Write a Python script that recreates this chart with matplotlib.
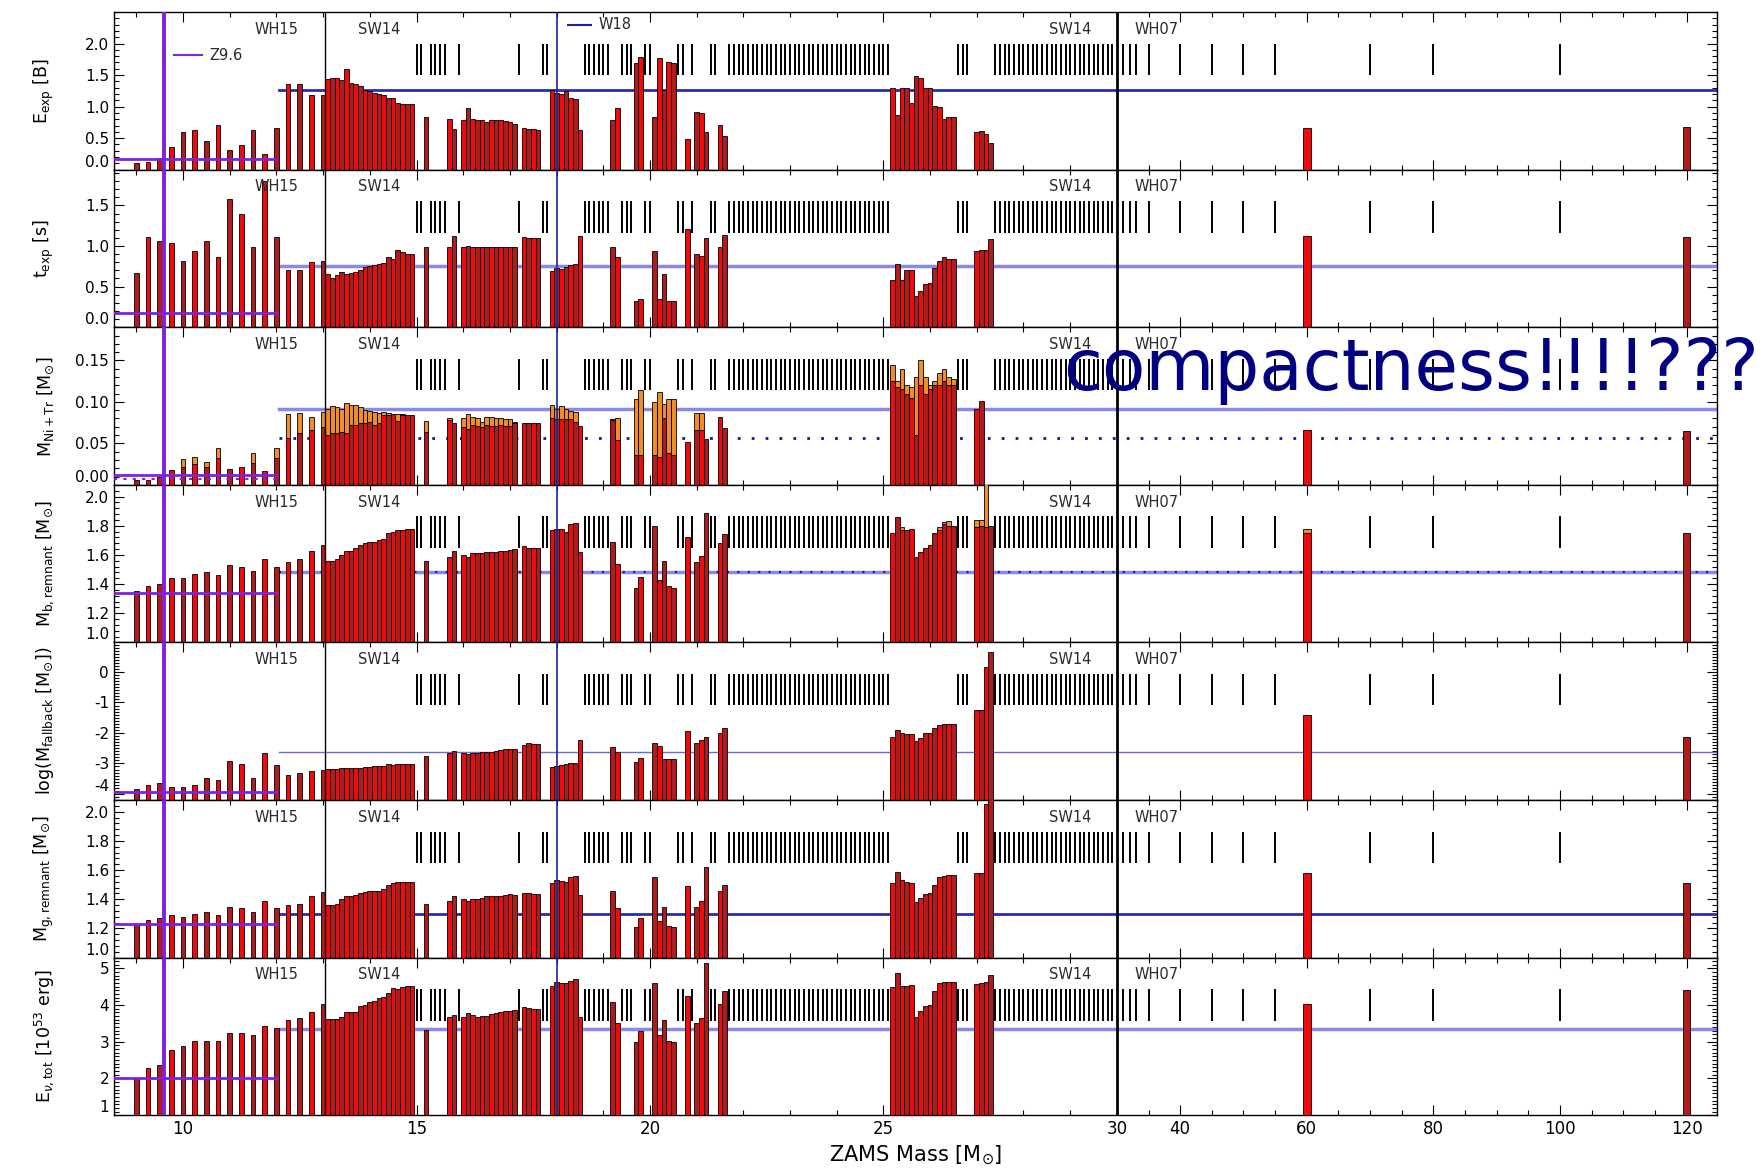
import matplotlib
matplotlib.use('Agg')
import matplotlib.pyplot as plt
from matplotlib.ticker import FixedLocator, MultipleLocator
import numpy as np

plt.rcParams.update({
    'font.family': ['DejaVu Sans'],
    'axes.unicode_minus': False,
    'mathtext.fontset': 'dejavusans',
})

# ---- exploding models: ZAMS mass and outcomes ----
mass = [9.0, 9.25, 9.5, 9.75, 10.0, 10.25, 10.5, 10.75, 11.0, 11.25, 11.5, 11.75, 12.0, 12.25, 12.5, 12.75, 13.0,
        13.1, 13.2, 13.3, 13.4, 13.5, 13.6, 13.7, 13.8, 13.9, 14.0, 14.1, 14.2, 14.3, 14.4, 14.5, 14.6, 14.7, 14.8, 14.9,
        15.2, 15.7, 15.8,
        16.0, 16.1, 16.2, 16.3, 16.4, 16.5, 16.6, 16.7, 16.8, 16.9, 17.0, 17.1,
        17.3, 17.4, 17.5, 17.6,
        17.9, 18.0, 18.1, 18.2, 18.3, 18.4, 18.5,
        19.2, 19.3, 19.7, 19.8,
        20.1, 20.2, 20.3, 20.4, 20.5, 20.8,
        21.0, 21.1, 21.2, 21.5, 21.6,
        25.2, 25.3, 25.4, 25.5, 25.6, 25.7, 25.8, 25.9, 26.0, 26.1, 26.2, 26.3, 26.4, 26.5,
        27.0, 27.1, 27.2, 27.3,
        60.0, 120.0]

e_exp = [0.10, 0.125, 0.18, 0.36, 0.60, 0.63, 0.45, 0.71, 0.31, 0.39, 0.63, 0.25, 0.66, 1.36, 1.36, 1.19, 1.18,
         1.43, 1.45, 1.46, 1.42, 1.59, 1.38, 1.36, 1.32, 1.27, 1.25, 1.21, 1.20, 1.18, 1.13, 1.13, 1.05, 1.04, 1.04, 1.04,
         0.84, 0.81, 0.65,
         0.79, 0.97, 0.80, 0.79, 0.78, 0.76, 0.79, 0.79, 0.78, 0.77, 0.75, 0.73,
         0.66, 0.65, 0.64, 0.63,
         1.26, 1.22, 1.20, 1.25, 1.13, 1.12, 0.63,
         0.78, 0.97, 1.69, 1.78,
         0.83, 1.77, 1.27, 1.71, 1.69, 0.48,
         0.92, 0.90, 0.60, 0.71, 0.53,
         1.30, 0.87, 1.30, 1.30, 1.06, 1.48, 1.45, 1.30, 1.30, 1.01, 0.99, 0.81, 0.83, 0.83,
         0.59, 0.62, 0.56, 0.42,
         0.66, 0.67]

t_exp = [0.67, 1.11, 1.06, 1.04, 0.81, 0.94, 1.06, 0.87, 1.58, 1.40, 0.99, 1.80, 1.11, 0.70, 0.70, 0.80, 0.82,
         0.65, 0.61, 0.64, 0.68, 0.66, 0.67, 0.68, 0.71, 0.74, 0.75, 0.77, 0.78, 0.79, 0.87, 0.84, 0.95, 0.92, 0.90, 0.90,
         0.99, 0.99, 1.12,
         0.99, 1.00, 0.99, 0.99, 0.99, 0.99, 0.99, 0.99, 0.99, 0.99, 0.99, 0.99,
         1.11, 1.10, 1.10, 1.10,
         0.69, 0.73, 0.72, 0.74, 0.76, 0.78, 1.12,
         0.99, 0.87, 0.32, 0.35,
         0.94, 0.35, 0.65, 0.32, 0.32, 1.21,
         0.90, 0.88, 1.10, 0.99, 1.14,
         0.58, 0.78, 0.58, 0.71, 0.71, 0.38, 0.45, 0.53, 0.54, 0.73, 0.81, 0.86, 0.84, 0.84,
         0.94, 0.95, 0.95, 1.09,
         1.12, 1.11]

# nickel (red) and nickel + tracer (top of orange)
m_ni = [0.006, 0.006, 0.009, 0.018, 0.021, 0.025, 0.022, 0.032, 0.019, 0.022, 0.026, 0.017, 0.032, 0.056, 0.062, 0.066, 0.070,
        0.060, 0.062, 0.062, 0.064, 0.062, 0.072, 0.072, 0.074, 0.074, 0.076, 0.072, 0.074, 0.084, 0.084, 0.086, 0.077, 0.084, 0.084, 0.084,
        0.064, 0.078, 0.074,
        0.070, 0.067, 0.072, 0.071, 0.070, 0.072, 0.071, 0.071, 0.072, 0.071, 0.071, 0.074,
        0.075, 0.075, 0.075, 0.074,
        0.081, 0.079, 0.079, 0.079, 0.079, 0.076, 0.071,
        0.078, 0.054, 0.036, 0.036,
        0.036, 0.034, 0.080, 0.038, 0.036, 0.052,
        0.066, 0.066, 0.055, 0.082, 0.068,
        0.125, 0.118, 0.115, 0.110, 0.105, 0.060, 0.120, 0.110, 0.115, 0.120, 0.120, 0.125, 0.120, 0.120,
        0.092, 0.101, 0.0, 0.0,
        0.066, 0.065]

m_ni_tr = [0.006, 0.006, 0.009, 0.018, 0.031, 0.033, 0.027, 0.045, 0.019, 0.022, 0.038, 0.017, 0.044, 0.086, 0.087, 0.082, 0.088,
           0.092, 0.095, 0.094, 0.092, 0.099, 0.096, 0.096, 0.094, 0.090, 0.089, 0.088, 0.087, 0.088, 0.087, 0.086, 0.086, 0.085, 0.084, 0.084,
           0.077, 0.081, 0.074,
           0.080, 0.086, 0.082, 0.080, 0.076, 0.082, 0.082, 0.080, 0.081, 0.079, 0.079, 0.076,
           0.075, 0.075, 0.075, 0.074,
           0.096, 0.092, 0.095, 0.092, 0.089, 0.088, 0.071,
           0.079, 0.080, 0.103, 0.114,
           0.100, 0.112, 0.098, 0.103, 0.103, 0.052,
           0.087, 0.087, 0.055, 0.082, 0.068,
           0.145, 0.125, 0.140, 0.120, 0.118, 0.130, 0.150, 0.130, 0.120, 0.125, 0.135, 0.140, 0.130, 0.128,
           0.092, 0.101, 0.0, 0.0,
           0.066, 0.065]

m_b = [1.35, 1.39, 1.40, 1.44, 1.44, 1.47, 1.48, 1.46, 1.53, 1.52, 1.49, 1.57, 1.52, 1.55, 1.57, 1.63, 1.67,
       1.56, 1.56, 1.575, 1.60, 1.63, 1.63, 1.65, 1.67, 1.68, 1.69, 1.69, 1.70, 1.71, 1.75, 1.76, 1.77, 1.77, 1.78, 1.78,
       1.56, 1.585, 1.625,
       1.60, 1.585, 1.61, 1.615, 1.615, 1.62, 1.62, 1.62, 1.63, 1.63, 1.635, 1.64,
       1.66, 1.65, 1.65, 1.65,
       1.77, 1.78, 1.78, 1.76, 1.81, 1.82, 1.62,
       1.69, 1.54, 1.37, 1.445,
       1.80, 1.43, 1.56, 1.385, 1.37, 1.72,
       1.55, 1.59, 1.89, 1.68, 1.74,
       1.75, 1.86, 1.77, 1.77, 1.78, 1.585, 1.62, 1.65, 1.67, 1.75, 1.77, 1.81, 1.80, 1.80,
       1.79, 1.80, 1.79, 1.80,
       1.75, 1.75]

# baryonic remnant including fallback (top of orange cap)
m_b_fb = [1.35, 1.39, 1.40, 1.44, 1.44, 1.47, 1.48, 1.46, 1.53, 1.52, 1.49, 1.57, 1.52, 1.55, 1.57, 1.63, 1.67,
          1.56, 1.56, 1.575, 1.60, 1.63, 1.63, 1.65, 1.67, 1.68, 1.69, 1.69, 1.70, 1.71, 1.75, 1.76, 1.77, 1.77, 1.78, 1.78,
          1.56, 1.585, 1.625,
          1.60, 1.585, 1.61, 1.615, 1.615, 1.62, 1.62, 1.62, 1.63, 1.63, 1.635, 1.64,
          1.66, 1.65, 1.65, 1.65,
          1.77, 1.78, 1.78, 1.76, 1.81, 1.82, 1.62,
          1.69, 1.54, 1.37, 1.445,
          1.80, 1.43, 1.56, 1.385, 1.37, 1.72,
          1.55, 1.59, 1.89, 1.68, 1.74,
          1.75, 1.86, 1.79, 1.77, 1.78, 1.585, 1.62, 1.65, 1.67, 1.75, 1.79, 1.825, 1.83, 1.80,
          1.84, 1.84, 2.20, 1.80,
          1.78, 1.75]

log_m_fb = [-3.85, -3.71, -3.63, -3.76, -3.78, -3.71, -3.47, -3.54, -2.92, -3.03, -3.47, -2.65, -3.05, -3.38, -3.30, -3.25, -3.22,
            -3.19, -3.19, -3.18, -3.16, -3.14, -3.14, -3.14, -3.14, -3.13, -3.13, -3.10, -3.10, -3.08, -3.02, -3.05, -3.02, -3.02, -3.02, -3.02,
            -2.76, -2.67, -2.59,
            -2.65, -2.70, -2.65, -2.65, -2.61, -2.61, -2.61, -2.59, -2.56, -2.54, -2.54, -2.54,
            -2.40, -2.34, -2.37, -2.37,
            -3.11, -3.07, -3.05, -3.03, -3.00, -2.98, -2.23,
            -2.45, -2.62, -2.94, -2.83,
            -2.32, -2.43, -2.87, -2.87, -2.87, -1.93,
            -2.32, -2.23, -2.14, -2.01, -1.85,
            -2.12, -1.90, -2.01, -2.03, -2.05, -2.26, -2.15, -2.01, -2.01, -1.85, -1.74, -1.69, -1.72, -1.72,
            -1.25, -1.25, 0.17, 0.66,
            -1.41, -2.12]

m_g = [1.23, 1.26, 1.27, 1.29, 1.28, 1.30, 1.31, 1.29, 1.35, 1.34, 1.31, 1.39, 1.34, 1.36, 1.37, 1.42, 1.45,
       1.36, 1.36, 1.37, 1.40, 1.42, 1.42, 1.43, 1.44, 1.45, 1.46, 1.46, 1.46, 1.47, 1.50, 1.51, 1.52, 1.52, 1.52, 1.52,
       1.37, 1.39, 1.42,
       1.405, 1.39, 1.405, 1.405, 1.41, 1.42, 1.425, 1.425, 1.425, 1.43, 1.435, 1.43,
       1.44, 1.44, 1.435, 1.435,
       1.51, 1.53, 1.525, 1.52, 1.55, 1.56, 1.43,
       1.46, 1.34, 1.21, 1.27,
       1.55, 1.25, 1.35, 1.22, 1.21, 1.49,
       1.35, 1.39, 1.62, 1.46, 1.50,
       1.51, 1.59, 1.53, 1.52, 1.51, 1.38, 1.41, 1.435, 1.44, 1.50, 1.55, 1.56, 1.565, 1.565,
       1.58, 1.58, 2.05, 2.20,
       1.58, 1.51]

e_nu = [1.98, 2.28, 2.37, 2.78, 2.89, 3.03, 3.03, 3.03, 3.23, 3.23, 3.19, 3.43, 3.37, 3.59, 3.64, 3.82, 4.02,
        3.61, 3.61, 3.61, 3.68, 3.82, 3.82, 3.82, 3.96, 4.00, 4.09, 4.12, 4.19, 4.23, 4.32, 4.46, 4.43, 4.50, 4.52, 4.52,
        3.32, 3.68, 3.73,
        3.67, 3.78, 3.73, 3.68, 3.71, 3.71, 3.76, 3.79, 3.82, 3.85, 3.85, 3.87,
        3.94, 3.91, 3.89, 3.89,
        4.52, 4.64, 4.60, 4.59, 4.66, 4.70, 3.68,
        4.09, 3.50, 3.00, 3.28,
        4.61, 3.19, 3.59, 3.03, 3.00, 4.25,
        3.52, 3.64, 5.15, 4.03, 4.37,
        4.49, 4.88, 4.52, 4.53, 4.55, 3.68, 3.85, 3.96, 4.00, 4.39, 4.61, 4.64, 4.62, 4.62,
        4.57, 4.59, 4.64, 4.81,
        4.04, 4.41]

# non-exploding models (black-hole formation)
bh_mass = [15.0, 15.1, 15.3, 15.4, 15.5, 15.6, 15.9, 17.2, 17.7, 17.8,
           18.6, 18.7, 18.8, 18.9, 19.0, 19.1, 19.4, 19.5, 19.6, 19.9, 20.0, 20.6, 20.7, 20.9, 21.3, 21.4,
           21.7, 21.8, 21.9, 22.0, 22.1, 22.2, 22.3, 22.4, 22.5, 22.6, 22.7, 22.8, 22.9, 23.0, 23.1, 23.2,
           23.3, 23.4, 23.5, 23.6, 23.7, 23.8, 23.9, 24.0, 24.1, 24.2, 24.3, 24.4, 24.5, 24.6, 24.7, 24.8,
           24.9, 25.0, 25.1,
           26.6, 26.7, 26.8,
           27.4, 27.5, 27.6, 27.7, 27.8, 27.9, 28.0, 28.1, 28.2, 28.3, 28.4, 28.5, 28.6, 28.7, 28.8, 28.9,
           29.0, 29.1, 29.2, 29.3, 29.4, 29.5, 29.6, 29.7, 29.8, 29.9,
           31.0, 32.0, 33.0, 35.0, 40.0, 45.0, 50.0, 55.0, 70.0, 80.0, 100.0]

# mean values of the calibration models, one per panel
z96_level = [0.17, 0.17, 0.012, 1.34, -3.93, 1.23, 2.0]
w18_level = [1.26, 0.75, 0.091, 1.48, -2.62, 1.30, 3.35]
z96_ni_level = 0.007
w18_ni_level = 0.056

ylabels = [r'E$_{\rm exp}$ [B]', r't$_{\rm exp}$ [s]', r'M$_{\rm Ni+Tr}$ [M$_{\odot}$]',
           r'M$_{\rm b,remnant}$ [M$_{\odot}$]', r'log(M$_{\rm fallback}$ [M$_{\odot}$])',
           r'M$_{\rm g,remnant}$ [M$_{\odot}$]', r'E$_{\nu,\rm tot}$ [10$^{53}$ erg]']
ylims = [(0, 2.5), (0, 1.94), (0, 0.19), (1.0, 2.08), (-4.2, 0.97), (1.0, 2.08), (1.0, 5.29)]
yticks = [[0.0, 0.5, 1.0, 1.5, 2.0], [0.0, 0.5, 1.0, 1.5], [0.0, 0.05, 0.10, 0.15],
          [1.0, 1.2, 1.4, 1.6, 1.8, 2.0], [-4, -3, -2, -1, 0], [1.0, 1.2, 1.4, 1.6, 1.8, 2.0],
          [1, 2, 3, 4, 5]]
yfmt = ['{:.1f}', '{:.1f}', '{:.2f}', '{:.1f}', '{:.0f}', '{:.1f}', '{:.0f}']
yminor = [0.1, 0.1, 0.01, 0.04, 0.1, 0.04, 0.1]

xticks = [10, 15, 20, 25, 30, 40, 60, 80, 100, 120]
xminor = [9, 11, 12, 13, 14, 16, 17, 18, 19, 21, 22, 23, 24, 26, 27, 28, 29,
          35, 45, 50, 55, 65, 70, 75, 85, 90, 95, 105, 110, 115]

# ---- broken mass axis: linear up to 30, compressed above ----
K = 0.1356

def fwd(m):
    m = np.asarray(m, dtype=float)
    return np.where(m <= 30, m, 30 + (m - 30) * K)

def inv(u):
    u = np.asarray(u, dtype=float)
    return np.where(u <= 30, u, 30 + (u - 30) / K)

RED_D = '#b01c1c'
RED_B = '#f20a0a'
ORANGE = '#ef8d2c'
PURPLE = '#7f22e0'
BLUE_D = '#2c2cb4'
BLUE_L = '#8888ee'
NAVY = '#1a1a8c'
LABEL_C = '#2a2a2a'

mass_a = np.array(mass)
widths = np.where(mass_a > 30, 1.2, 0.1)
colors = np.array([RED_D if i % 2 == 0 else RED_B for i in range(len(mass))])

fig, axes = plt.subplots(7, 1, figsize=(17.64, 11.69), dpi=100, sharex=True)
fig.subplots_adjust(left=0.0646, right=0.9734, bottom=0.046, top=0.9897, hspace=0)
axes[0].set_xscale('function', functions=(fwd, inv))
XMIN, XMAX = 8.52, 124.8

def bars(ax, top, base, cap=None):
    top = np.array(top)
    keep = top > base
    ax.bar(mass_a[keep], top[keep] - base, width=widths[keep], bottom=base,
           color=colors[keep], edgecolor='black', linewidth=0.6, zorder=3)
    if cap is not None:
        cap = np.array(cap)
        k2 = cap > top + 1e-6
        ax.bar(mass_a[k2], cap[k2] - top[k2], width=widths[k2], bottom=top[k2],
               color=ORANGE, edgecolor='black', linewidth=0.6, zorder=3)

panels = [(e_exp, None), (t_exp, None), (m_ni, m_ni_tr), (m_b, m_b_fb),
          (log_m_fb, None), (m_g, None), (e_nu, None)]
w18_style = [(BLUE_D, 2.0), (BLUE_L, 2.5), (BLUE_L, 2.5), (BLUE_L, 2.5),
             ('#6a6ae0', 1.0), (BLUE_D, 2.0), (BLUE_L, 2.5)]

for i, ax in enumerate(axes):
    lo, hi = ylims[i]
    vals, cap = panels[i]
    bars(ax, vals, lo, cap)

    # mean levels of the two calibration engines
    ax.plot([XMIN, 12.0], [z96_level[i]] * 2, color=PURPLE, lw=2.0, zorder=4)
    c, lw = w18_style[i]
    ax.plot([12.05, XMAX], [w18_level[i]] * 2, color=c, lw=lw, zorder=2)
    if i == 2:
        ax.plot([XMIN, 12.0], [z96_ni_level] * 2, color=PURPLE, lw=1.5, ls=(0, (1.5, 3)), zorder=4)
        ax.plot([12.05, XMAX], [w18_ni_level] * 2, color=NAVY, lw=2, ls=(0, (1, 4)), zorder=2)
    if i == 3:
        ax.plot([12.05, XMAX], [w18_level[i]] * 2, color=NAVY, lw=1.5, ls=(0, (1, 4)), zorder=2)

    # non-exploding models
    ax.vlines(bh_mass, 0.6, 0.8, color='black', lw=1.4,
              transform=ax.get_xaxis_transform(), zorder=2)

    ax.axvline(9.6, color=PURPLE, lw=2.8, zorder=5)
    ax.axvline(13.05, color='black', lw=1.0, zorder=5)
    ax.axvline(18.0, color='#2020a0', lw=1.2, zorder=5)
    ax.axvline(30.0, color='black', lw=2.0, zorder=5)

    for x, s in [(12.0, 'WH15'), (14.2, 'SW14'), (29.0, 'SW14'), (36.3, 'WH07')]:
        ax.text(x, 0.89, s, transform=ax.get_xaxis_transform(), ha='center', va='center',
                fontsize=10.5, color=LABEL_C, zorder=6)

    ax.set_ylim(lo, hi)
    ax.set_yticks(yticks[i])
    ax.set_yticklabels([yfmt[i].format(t) for t in yticks[i]])
    ax.get_yticklabels()[0].set_verticalalignment('bottom')
    ax.yaxis.set_minor_locator(MultipleLocator(yminor[i]))
    ax.set_ylabel(ylabels[i], fontsize=12.5)
    ax.yaxis.set_label_coords(-0.036, 0.5)
    ax.tick_params(which='both', direction='in', top=True, right=True, labelsize=11, width=0.8)
    ax.tick_params(which='major', length=7)
    ax.tick_params(which='minor', length=3.5)
    for sp in ax.spines.values():
        sp.set_linewidth(1.0)

axes[0].set_xlim(XMIN, XMAX)
axes[-1].xaxis.set_major_locator(FixedLocator(xticks))
axes[-1].xaxis.set_minor_locator(FixedLocator(xminor))
axes[-1].set_xticklabels([str(t) for t in xticks])
axes[-1].tick_params(axis='x', labelsize=12)
axes[-1].set_xlabel(r'ZAMS Mass [M$_{\odot}$]', fontsize=15, labelpad=4)

# legend marks for the calibration engines
ax0 = axes[0]
tr0 = ax0.get_xaxis_transform()
ax0.plot([9.8, 10.4], [0.727, 0.727], color=PURPLE, lw=1.5, transform=tr0)
ax0.text(10.56, 0.727, 'Z9.6', transform=tr0, va='center', fontsize=10.5, color=LABEL_C)
ax0.plot([18.25, 18.73], [0.92, 0.92], color='#2020a0', lw=1.5, transform=tr0)
ax0.text(18.9, 0.92, 'W18', transform=tr0, va='center', fontsize=10.5, color=LABEL_C)

fig.text(0.6027, 0.683, 'compactness!!!!???', fontsize=51, color='#000080',
         ha='left', va='center')

fig.savefig('out.png', dpi=100, facecolor='white')
